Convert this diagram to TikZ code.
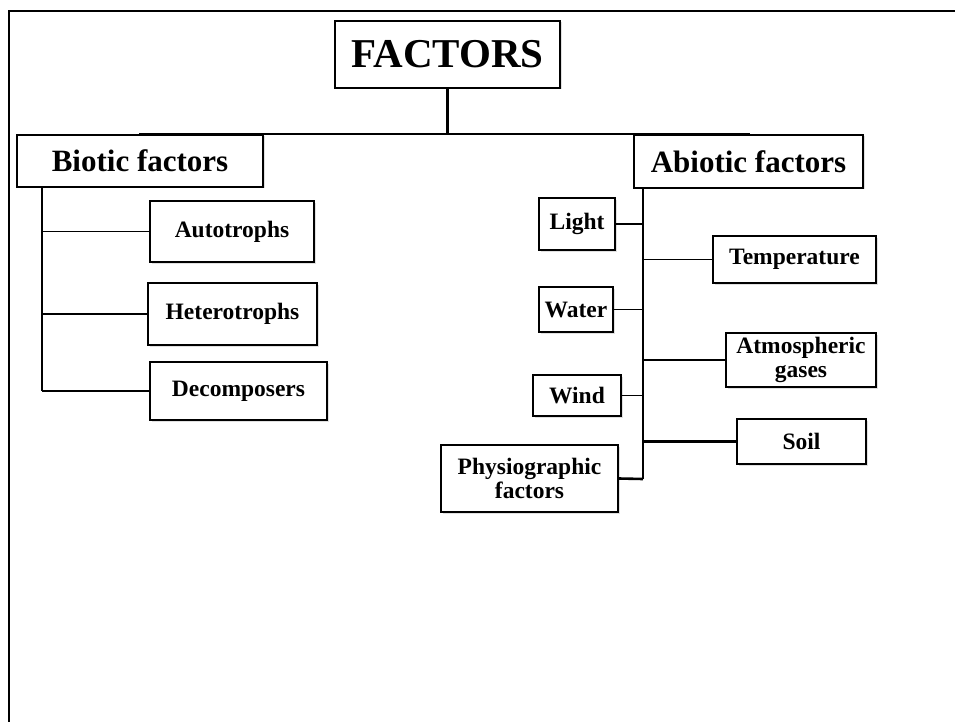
\documentclass[tikz,border=0pt]{standalone}
\usepackage{fontspec}
\setmainfont{Liberation Serif}
\usetikzlibrary{shadows}
\tikzset{
    box/.style={draw, line width=1.8pt, fill=white, inner sep=0pt, align=center,
        drop shadow={shadow xshift=1.5pt, shadow yshift=-1.5pt, fill=black, opacity=0.12}},
    bigtitle/.style={box, font=\fontsize{41}{41}\selectfont\bfseries},
    midtitle/.style={box, font=\fontsize{31}{31}\selectfont\bfseries},
    smalltitle/.style={box, font=\fontsize{23.5}{24}\selectfont\bfseries},
    thinlink/.style={line width=1.2pt},
    thicklink/.style={line width=2.6pt},
}
\begin{document}
\begin{tikzpicture}[x=1pt, y=-1pt]
    \useasboundingbox (0, 0) rectangle (955, 722);
    \draw[line width=1.6pt] (9, 722) -- (9, 11) -- (955, 11);
    % top level
    \node[bigtitle, minimum width=225pt, minimum height=67pt] (factors) at (447.5, 54.5) {FACTORS};
    \node[midtitle, minimum width=246pt, minimum height=52pt] (biotic) at (140, 161) {Biotic factors};
    \node[midtitle, minimum width=229pt, minimum height=53pt] (abiotic) at (748.5, 161.5) {Abiotic factors};
    \coordinate (barL) at (139, 134);
    \coordinate (barR) at (750, 134);
    \draw[line width=2.2pt] (factors.south) -- (factors.south |- barL);
    \draw[line width=2.2pt] (barL) -- (barR);
    % biotic side
    \node[smalltitle, minimum width=164pt, minimum height=61pt] (auto) at (232, 231.5) {Autotrophs};
    \node[smalltitle, minimum width=169pt, minimum height=62pt] (hetero) at (232.5, 314) {Heterotrophs};
    \node[smalltitle, minimum width=177pt, minimum height=58pt] (decomp) at (238.5, 391) {Decomposers};
    \coordinate (bt) at (42, 187);
    \coordinate (bb) at (42, 391);
    \draw[thicklink] (bt) -- (bb);
    \draw[thinlink] (auto.west) -- (auto.west -| bt);
    \draw[thicklink] (hetero.west) -- (hetero.west -| bt);
    \draw[thicklink] (decomp.west) -- (bb);
    % abiotic side
    \node[smalltitle, minimum width=76pt, minimum height=52pt] (light) at (577, 224) {Light};
    \node[smalltitle, minimum width=163pt, minimum height=47pt] (temp) at (794.5, 259.5) {Temperature};
    \node[smalltitle, minimum width=74pt, minimum height=45pt] (water) at (576, 309.5) {Water};
    \node[smalltitle, minimum width=150pt, minimum height=54pt] (atmos) at (801, 360) {Atmospheric\\gases};
    \node[smalltitle, minimum width=88pt, minimum height=41pt] (wind) at (577, 395.5) {Wind};
    \node[smalltitle, minimum width=129pt, minimum height=45pt] (soil) at (801.5, 441.5) {Soil};
    \node[smalltitle, minimum width=177pt, minimum height=67pt] (physio) at (529.5, 478.5) {Physiographic\\factors};
    \coordinate (at) at (643, 188);
    \coordinate (ab) at (643, 479);
    \draw[thicklink] (at) -- (ab);
    \draw[line width=2pt] (light.east) -- (light.east -| at);
    \draw[thinlink] (temp.west) -- (temp.west -| at);
    \draw[thinlink] (water.east) -- (water.east -| at);
    \draw[thicklink] (atmos.west) -- (atmos.west -| at);
    \draw[thinlink] (wind.east) -- (wind.east -| at);
    \draw[thicklink] (soil.west) -- (soil.west -| at);
    \draw[thicklink] (physio.east) -- (ab);
\end{tikzpicture}
\end{document}
